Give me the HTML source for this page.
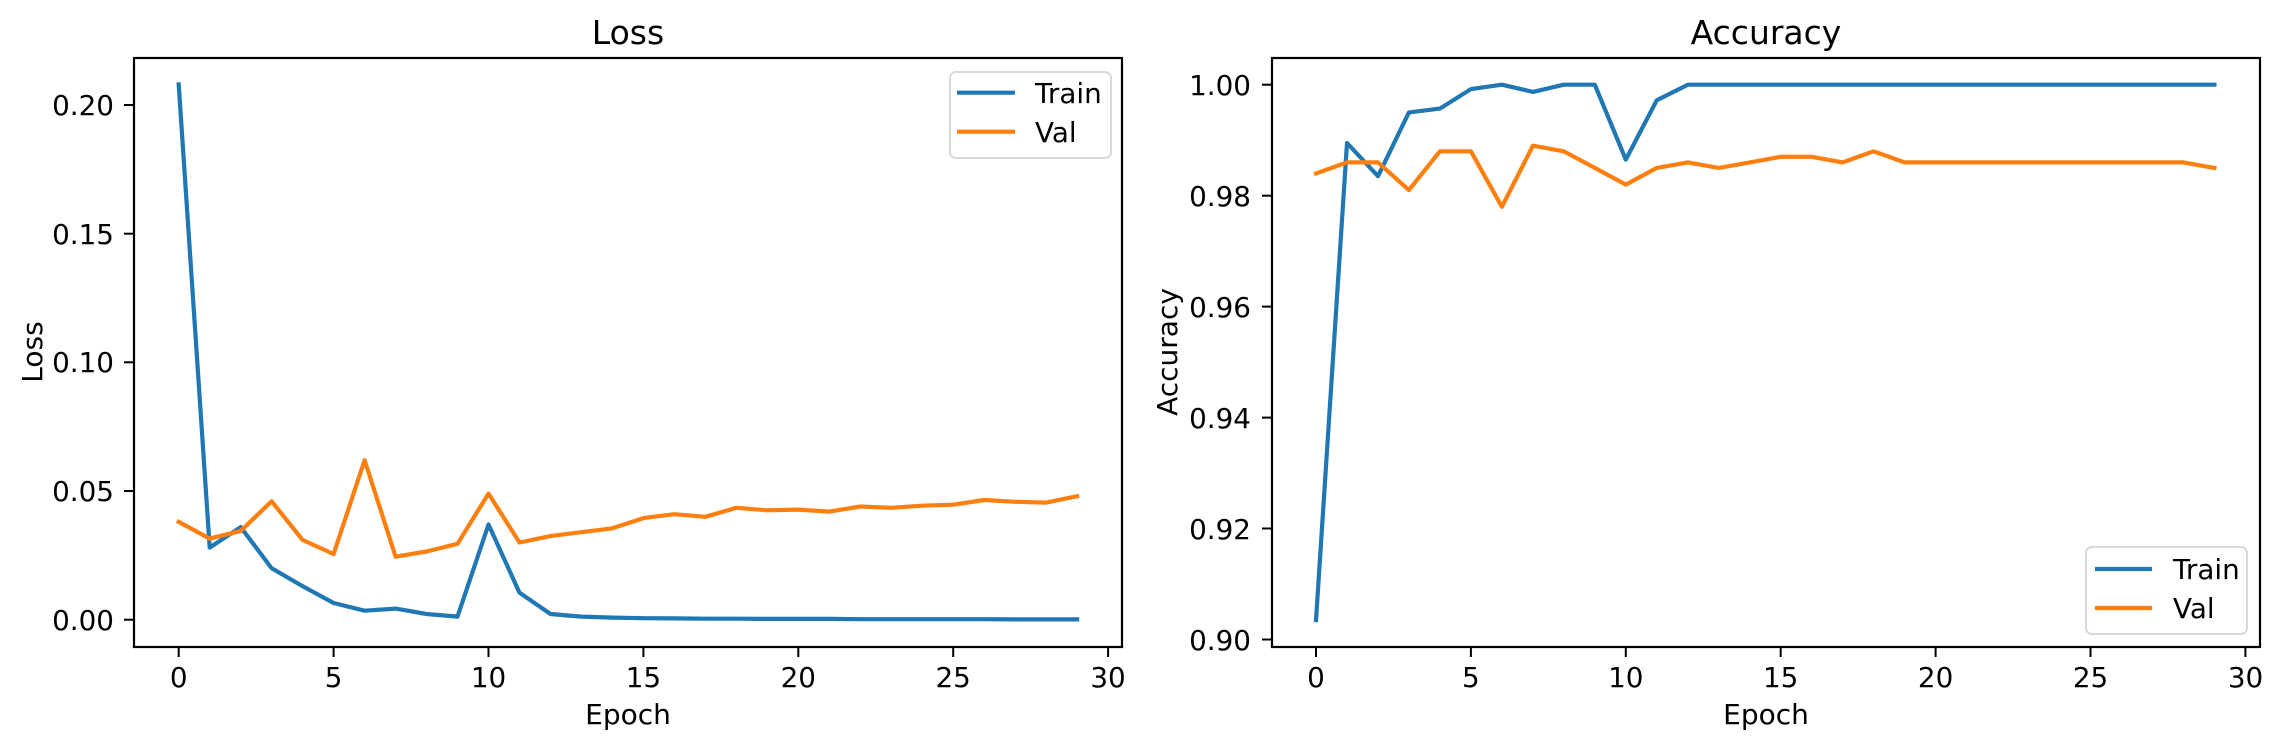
<!DOCTYPE html>
<html><head><meta charset="utf-8"><style>
html,body{margin:0;padding:0;background:#fff;}
svg{display:block;font-family:"DejaVu Sans","Liberation Sans",sans-serif;}
</style></head><body>
<svg id="s" width="2281" height="748" xmlns="http://www.w3.org/2000/svg">
<rect width="2281" height="748" fill="#fff"/>
<g id="lines"></g>
<!-- Left axes -->
<rect x="134" y="58" width="988" height="589" fill="none" stroke="#000" stroke-width="2.2"/>
<text x="628" y="44" font-size="33" text-anchor="middle">Loss</text>
<text x="628" y="724" font-size="28" text-anchor="middle">Epoch</text>
<text transform="translate(42,352) rotate(-90)" font-size="28" text-anchor="middle">Loss</text>
<g font-size="27.8" text-anchor="end">
<text x="114" y="115">0.20</text>
<text x="114" y="244">0.15</text>
<text x="114" y="372">0.10</text>
<text x="114" y="501">0.05</text>
<text x="114" y="630">0.00</text>
</g>
<g stroke="#000" stroke-width="2">
<line x1="124" x2="134" y1="105" y2="105"/><line x1="124" x2="134" y1="233.7" y2="233.7"/><line x1="124" x2="134" y1="362.3" y2="362.3"/><line x1="124" x2="134" y1="491" y2="491"/><line x1="124" x2="134" y1="619.7" y2="619.7"/>
</g>
<g font-size="27.8" text-anchor="middle">
<text x="178.7" y="687">0</text><text x="333.6" y="687">5</text><text x="488.5" y="687">10</text><text x="643.4" y="687">15</text><text x="798.3" y="687">20</text><text x="953.2" y="687">25</text><text x="1108" y="687">30</text>
</g>
<!-- Right axes -->
<rect x="1272" y="58" width="988" height="589" fill="none" stroke="#000" stroke-width="2.2"/>
<text x="1766" y="44" font-size="33" text-anchor="middle">Accuracy</text>
<text x="1766" y="724" font-size="28" text-anchor="middle">Epoch</text>
<text transform="translate(1177,352) rotate(-90)" font-size="28" text-anchor="middle">Accuracy</text>
<g font-size="27.8" text-anchor="end">
<text x="1251" y="95">1.00</text>
<text x="1251" y="206">0.98</text>
<text x="1251" y="317">0.96</text>
<text x="1251" y="428">0.94</text>
<text x="1251" y="539">0.92</text>
<text x="1251" y="650">0.90</text>
</g>
<g stroke="#000" stroke-width="2">
<line x1="1262" x2="1272" y1="84.7" y2="84.7"/><line x1="1262" x2="1272" y1="195.7" y2="195.7"/><line x1="1262" x2="1272" y1="306.6" y2="306.6"/><line x1="1262" x2="1272" y1="417.6" y2="417.6"/><line x1="1262" x2="1272" y1="528.5" y2="528.5"/><line x1="1262" x2="1272" y1="639.5" y2="639.5"/>
</g>
<g font-size="27.8" text-anchor="middle">
<text x="1316" y="687">0</text><text x="1470.9" y="687">5</text><text x="1625.8" y="687">10</text><text x="1780.7" y="687">15</text><text x="1935.6" y="687">20</text><text x="2090.5" y="687">25</text><text x="2245.5" y="687">30</text>
</g>
<g id="xticks" stroke="#000" stroke-width="2"></g>
<!-- legends -->
<rect x="950" y="72" width="161" height="86" rx="6" fill="#fff" stroke="#d9d9d9" stroke-width="2"/>
<line x1="957" x2="1015" y1="92.7" y2="92.7" stroke="#1f77b4" stroke-width="4.2"/>
<line x1="957" x2="1015" y1="131.7" y2="131.7" stroke="#ff7f0e" stroke-width="4.2"/>
<text x="1035" y="103" font-size="27.8">Train</text>
<text x="1035" y="142" font-size="27.8">Val</text>
<rect x="2086" y="547" width="161" height="87" rx="6" fill="#fff" stroke="#d9d9d9" stroke-width="2"/>
<line x1="2095" x2="2152" y1="569" y2="569" stroke="#1f77b4" stroke-width="4.2"/>
<line x1="2095" x2="2152" y1="608" y2="608" stroke="#ff7f0e" stroke-width="4.2"/>
<text x="2173" y="579" font-size="27.8">Train</text>
<text x="2173" y="618" font-size="27.8">Val</text>
</svg>
<script>
var NS="http://www.w3.org/2000/svg";
var lt=[0.208,0.028,0.036,0.020,0.013,0.0065,0.0035,0.0043,0.0022,0.0012,0.037,0.0105,0.0022,0.0012,0.0008,0.0006,0.0005,0.0004,0.0004,0.0003,0.0003,0.0003,0.0002,0.0002,0.0002,0.0002,0.0002,0.0001,0.0001,0.0001];
var lv=[0.038,0.0315,0.0345,0.046,0.031,0.0255,0.062,0.0245,0.0265,0.0295,0.049,0.030,0.0325,0.034,0.0355,0.0395,0.041,0.040,0.0435,0.0425,0.0428,0.042,0.044,0.0435,0.0443,0.0447,0.0465,0.0458,0.0455,0.048];
var at=[0.9035,0.9895,0.9835,0.995,0.9957,0.9992,1.0,0.9987,1,1,0.9865,0.9972,1,1,1,1,1,1,1,1,1,1,1,1,1,1,1,1,1,1];
var av=[0.984,0.986,0.986,0.981,0.988,0.988,0.978,0.989,0.988,0.985,0.982,0.985,0.986,0.985,0.986,0.987,0.987,0.986,0.988,0.986,0.986,0.986,0.986,0.986,0.986,0.986,0.986,0.986,0.986,0.985];
var g=document.getElementById("lines");
function pl(d,x0,fy,c){var p=document.createElementNS(NS,"polyline");p.setAttribute("points",d.map(function(v,i){return (x0+i*30.98).toFixed(1)+","+fy(v).toFixed(1)}).join(" "));p.setAttribute("fill","none");p.setAttribute("stroke",c);p.setAttribute("stroke-width","4.2");p.setAttribute("stroke-linejoin","round");p.setAttribute("stroke-linecap","square");g.appendChild(p);}
var fl=function(v){return 619.7-v*2573.4};
var fa=function(v){return 639.5-(v-0.9)*5548};
pl(lt,178.7,fl,"#1f77b4");pl(lv,178.7,fl,"#ff7f0e");
pl(at,1316,fa,"#1f77b4");pl(av,1316,fa,"#ff7f0e");
var xt=document.getElementById("xticks");
[178.7,1316].forEach(function(x0){for(var k=0;k<=6;k++){var l=document.createElementNS(NS,"line");var x=x0+k*5*30.98;l.setAttribute("x1",x);l.setAttribute("x2",x);l.setAttribute("y1",647);l.setAttribute("y2",657);xt.appendChild(l);}});
</script>
</body></html>
